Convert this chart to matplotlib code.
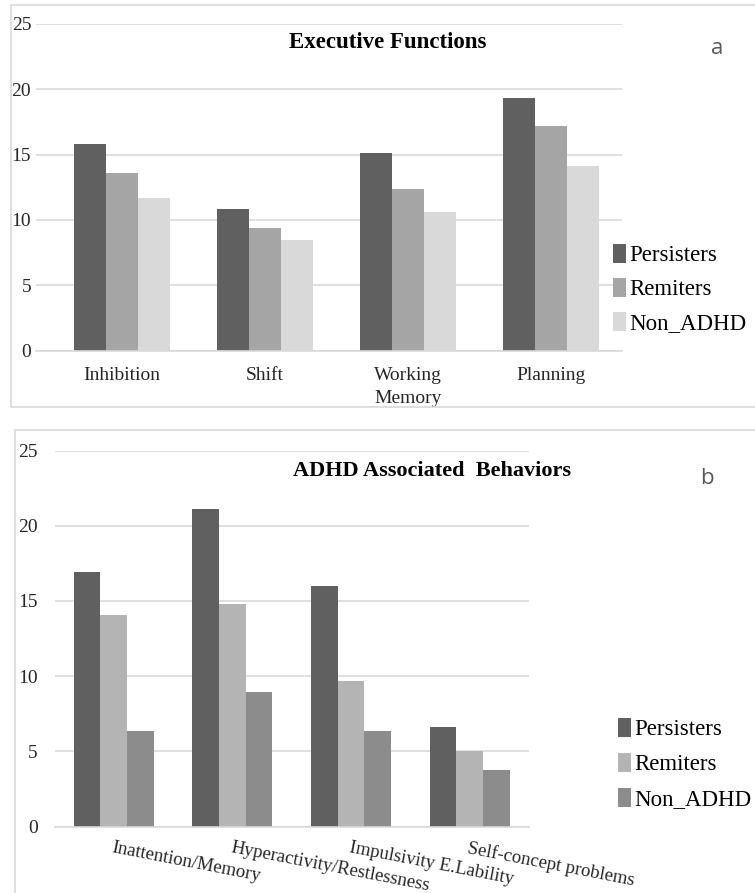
import matplotlib
matplotlib.use("Agg")
import matplotlib.pyplot as plt
from matplotlib.patches import Rectangle
import numpy as np

series = ["Persisters", "Remiters", "Non_ADHD"]

ef_categories = ["Inhibition", "Shift", "Working\nMemory", "Planning"]
ef_persisters = [15.8, 10.8, 15.1, 19.3]
ef_remiters = [13.6, 9.4, 12.35, 17.2]
ef_non_adhd = [11.7, 8.5, 10.6, 14.15]

ab_categories = ["Inattention/Memory", "Hyperactivity/Restlessness",
                 "Impulsivity E.Lability", "Self-concept problems"]
ab_persisters = [16.9, 21.1, 16.0, 6.65]
ab_remiters = [14.1, 14.8, 9.7, 5.0]
ab_non_adhd = [6.35, 8.95, 6.35, 3.8]

ef_colors = ["#606060", "#a5a5a5", "#d9d9d9"]
ab_colors = ["#606060", "#b4b4b4", "#8c8c8c"]

serif = "Liberation Serif"
W, H = 755, 893
fig = plt.figure(figsize=(W / 100, H / 100), dpi=100)

def fx(px):
    return px / W

def fy(py):
    return 1 - py / H

# panel frames
fig.patches.append(Rectangle((fx(11), fy(407)), fx(760 - 11), fy(5) - fy(407),
                             transform=fig.transFigure, fill=False,
                             edgecolor="#d9d9d9", linewidth=1.2))
fig.patches.append(Rectangle((fx(15), fy(900)), fx(760 - 15), fy(430) - fy(900),
                             transform=fig.transFigure, fill=False,
                             edgecolor="#d9d9d9", linewidth=1.2))


def style_axes(ax, ypad):
    ax.set_ylim(0, 25)
    ax.set_yticks([0, 5, 10, 15, 20, 25])
    ax.yaxis.grid(True, color="#d9d9d9", linewidth=1.2)
    ax.set_axisbelow(True)
    for s in ["top", "right", "left"]:
        ax.spines[s].set_visible(False)
    ax.spines["bottom"].set_color("#d9d9d9")
    ax.spines["bottom"].set_linewidth(1.2)
    ax.tick_params(axis="both", length=0)
    for lab in ax.get_yticklabels():
        lab.set_fontfamily(serif)
        lab.set_fontsize(14)
        lab.set_color("#262626")
    ax.tick_params(axis="y", pad=ypad)


legend_kw = dict(frameon=False, prop={"family": serif, "size": 16.5},
                 handlelength=0.55, handleheight=0.9, handletextpad=0.15,
                 borderpad=0, borderaxespad=0)

# ---- Panel a ----
ax1 = fig.add_axes([fx(36), fy(350.7), fx(622 - 36), fy(23.8) - fy(350.7)])
x = np.arange(len(ef_categories))
w = 0.224
for i, (vals, c) in enumerate(zip([ef_persisters, ef_remiters, ef_non_adhd], ef_colors)):
    ax1.bar(x + (i - 1) * w, vals, width=w, color=c, label=series[i])
ax1.set_xlim(-0.6, 3.5)
ax1.set_xticks(x)
ax1.set_xticklabels(ef_categories, fontfamily=serif, fontsize=14, color="#262626",
                    linespacing=1.45)
ax1.tick_params(axis="x", pad=12)
style_axes(ax1, 3.5)
ax1.legend(loc="center left", bbox_to_anchor=(fx(613), fy(289)),
           bbox_transform=fig.transFigure, labelspacing=0.5, **legend_kw)
fig.text(fx(388), fy(43), "Executive Functions", fontfamily=serif, fontsize=16.5,
         fontweight="bold", ha="center", va="center", color="#000000")
fig.text(fx(717), fy(48), "a", fontfamily="Open Sans", fontsize=16,
         ha="center", va="center", color="#595959")

# ---- Panel b ----
ax2 = fig.add_axes([fx(54.5), fy(826.7), fx(529 - 54.5), fy(450.5) - fy(826.7)])
x2 = np.arange(len(ab_categories))
w2 = 0.225
for i, (vals, c) in enumerate(zip([ab_persisters, ab_remiters, ab_non_adhd], ab_colors)):
    ax2.bar(x2 + (i - 1) * w2, vals, width=w2, color=c, label=series[i])
ax2.set_xlim(-0.5, 3.5)
ax2.set_xticks(x2)
ax2.set_xticklabels(ab_categories, fontfamily=serif, fontsize=13.5, color="#262626",
                    rotation=-11, ha="left", va="top", rotation_mode="anchor")
ax2.tick_params(axis="x", pad=9)
style_axes(ax2, 12)
ax2.legend(loc="center left", bbox_to_anchor=(fx(618), fy(764)),
           bbox_transform=fig.transFigure, labelspacing=0.55, **legend_kw)
fig.text(fx(432), fy(471), "ADHD Associated  Behaviors", fontfamily=serif, fontsize=16,
         fontweight="bold", ha="center", va="center", color="#000000")
fig.text(fx(707), fy(478), "b", fontfamily="Open Sans", fontsize=16,
         ha="center", va="center", color="#595959")

fig.savefig("out.png", dpi=100)
